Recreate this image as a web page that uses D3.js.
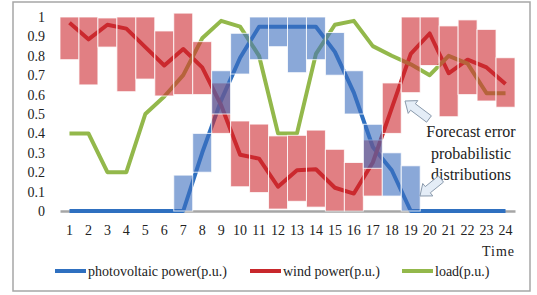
<!DOCTYPE html>
<html>
<head>
<meta charset="utf-8">
<script src="https://cdn.jsdelivr.net/npm/d3@7"></script>
<style>
  body { margin: 0; background: #fff; }
  svg { display: block; }
</style>
</head>
<body>
<div id="svgContainer"></div>
<script>
// hours on the x axis
const hours = d3.range(1, 25);
const yTicks = d3.range(0, 11).map(d => d / 10);

// forecast curves (p.u.)
const pv = [0, 0, 0, 0, 0, 0, 0, 0.3, 0.57, 0.79, 0.95, 0.95,
  0.95, 0.95, 0.82, 0.61, 0.33, 0.21, 0, 0, 0, 0, 0, 0];
const wind = [0.97, 0.885, 0.96, 0.94, 0.845, 0.75, 0.835, 0.74, 0.545, 0.29, 0.27, 0.125,
  0.21, 0.215, 0.12, 0.09, 0.25, 0.53, 0.81, 0.915, 0.71, 0.78, 0.74, 0.655];
const load = [0.4, 0.4, 0.2, 0.2, 0.5, 0.59, 0.7, 0.89, 0.98, 0.95, 0.8, 0.4,
  0.4, 0.81, 0.96, 0.98, 0.85, 0.8, 0.756, 0.7, 0.8, 0.76, 0.607, 0.607];

// forecast error ranges (null = no box)
const pvLow = [null, null, null, null, null, null, 0, 0.2, 0.5, 0.706, 0.78, 0.847,
  0.713, 0.78, 0.7, 0.5, 0.22, 0.077, 0, null, null, null, null, null];
const pvHigh = [null, null, null, null, null, null, 0.185, 0.4, 0.723, 0.916, 1, 1,
  1, 1, 0.92, 0.723, 0.447, 0.3, 0.233, null, null, null, null, null];
const windLow = [0.78, 0.65, 0.845, 0.615, 0.68, 0.593, 0.6, 0.6, 0.4, 0.125, 0.095, 0.01,
  0.05, 0.02, 0, 0, 0.077, 0.4, 0.61, 0.75, 0.486, 0.6, 0.567, 0.535];
const windHigh = [1, 1, 0.995, 1, 1, 0.928, 1.02, 0.873, 0.66, 0.464, 0.448, 0.387,
  0.39, 0.417, 0.318, 0.25, 0.366, 0.66, 1, 1, 0.954, 0.985, 0.936, 0.79];

const seriesNames = ["photovoltaic power(p.u.)", "wind power(p.u.)", "load(p.u.)"];
const seriesColors = ["#2f70c0", "#c8282c", "#93b84b"];

const width = 537, height = 295;
const font = "'Liberation Serif', 'Times New Roman', serif";

const svg = d3.select("#svgContainer").append("svg")
  .attr("width", width)
  .attr("height", height);

// outer frame
svg.append("rect")
  .attr("x", 13).attr("y", 2)
  .attr("width", 517).attr("height", 289)
  .attr("fill", "#fff")
  .attr("stroke", "#a6a6a6")
  .attr("stroke-width", 1.5);

const x = d3.scaleBand().domain(hours).range([60, 515]).padding(0);
const y = d3.scaleLinear().domain([0, 1]).range([211, 17]);
const cx = h => x(h) + x.bandwidth() / 2;

// y axis labels
const yAxis = svg.append("g")
  .attr("transform", "translate(47,0)")
  .call(d3.axisLeft(y).tickValues(yTicks).tickSize(0).tickPadding(2)
    .tickFormat(d => d3.format("~g")(d)));
yAxis.select(".domain").remove();
yAxis.selectAll("text")
  .attr("font-family", font).attr("font-size", 14).attr("fill", "#222");

// x axis
const xAxis = svg.append("g")
  .attr("transform", `translate(0,${y(0)})`)
  .call(d3.axisBottom(x).tickSize(0).tickPadding(14));
xAxis.select(".domain")
  .attr("stroke", "#a6a6a6").attr("stroke-width", 2.5);
xAxis.selectAll("text")
  .attr("font-family", font).attr("font-size", 14).attr("fill", "#222");

svg.append("text")
  .attr("x", 515).attr("y", 256)
  .attr("text-anchor", "end")
  .attr("font-family", font).attr("font-size", 14).attr("fill", "#222")
  .attr("letter-spacing", 1)
  .text("Time");

// lines
const line = d3.line()
  .x((d, i) => cx(hours[i]))
  .y(d => y(d));
[pv, wind, load].forEach((s, k) => {
  svg.append("path")
    .datum(s)
    .attr("d", line)
    .attr("fill", "none")
    .attr("stroke", seriesColors[k])
    .attr("stroke-width", 4)
    .attr("stroke-linejoin", "round");
});

// error boxes
function boxes(low, high, color) {
  const data = hours.map((h, i) => ({ h, lo: low[i], hi: high[i] }))
    .filter(d => d.lo !== null);
  svg.append("g").selectAll("rect")
    .data(data)
    .join("rect")
    .attr("x", d => x(d.h))
    .attr("y", d => y(d.hi))
    .attr("width", x.bandwidth())
    .attr("height", d => y(d.lo) - y(d.hi))
    .attr("fill", color)
    .attr("fill-opacity", 0.6)
    .attr("stroke", "#fff")
    .attr("stroke-opacity", 0.8)
    .attr("stroke-width", 1);
}
boxes(windLow, windHigh, "#cd2a30");
boxes(pvLow, pvHigh, "#3c6ebe");

// annotation
const note = svg.append("text")
  .attr("font-family", font).attr("font-size", 16).attr("fill", "#222")
  .attr("text-anchor", "middle");
["Forecast error", "probabilistic", "distributions"].forEach((t, i) => {
  note.append("tspan").attr("x", 471).attr("y", 137 + i * 21.5).text(t);
});

function arrow(tip, tail) {
  const dx = tail[0] - tip[0], dy = tail[1] - tip[1];
  const len = Math.hypot(dx, dy);
  const ux = dx / len, uy = dy / len, px = -uy, py = ux;
  const head = 10, hw = 8, sw = 4;
  const pts = [
    [0, 0], [head, hw], [head, sw], [len, sw],
    [len, -sw], [head, -sw], [head, -hw]
  ].map(([a, b]) => [tip[0] + ux * a + px * b, tip[1] + uy * a + py * b]);
  svg.append("path")
    .attr("d", d3.line()(pts) + "Z")
    .attr("fill", "#e4edf7")
    .attr("stroke", "#8a9aac")
    .attr("stroke-width", 1);
}
arrow([405, 101], [429, 119]);
arrow([420, 196], [441, 179]);

// legend
const legendX = [55, 250, 402];
const legend = svg.append("g");
seriesNames.forEach((name, k) => {
  legend.append("line")
    .attr("x1", legendX[k]).attr("x2", legendX[k] + 31)
    .attr("y1", 271).attr("y2", 271)
    .attr("stroke", seriesColors[k]).attr("stroke-width", 4);
  legend.append("text")
    .attr("x", legendX[k] + 33).attr("y", 276)
    .attr("font-family", font).attr("font-size", 14).attr("fill", "#222")
    .text(name);
});
</script>
</body>
</html>
